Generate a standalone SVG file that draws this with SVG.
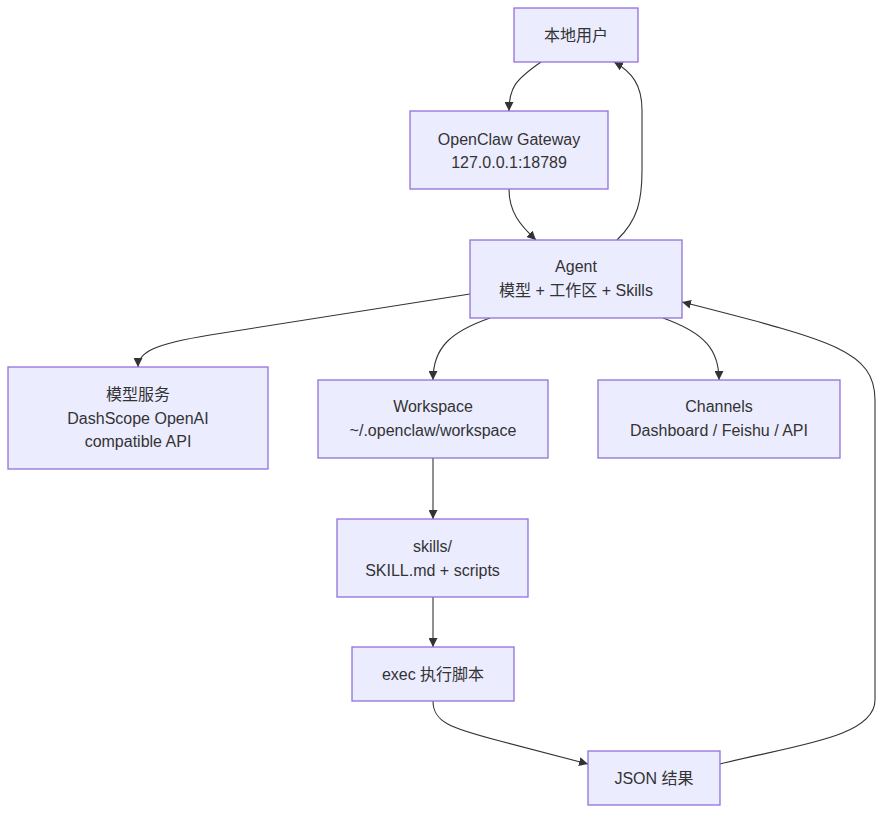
<svg xmlns="http://www.w3.org/2000/svg" width="883" height="814" viewBox="0 0 883 814">
<style>
.node rect{fill:#ECECFF;stroke:#9370DB;stroke-width:1.3}
.node text{font-family:"Liberation Sans","Noto Sans CJK SC",sans-serif;font-size:16px;fill:#333;text-anchor:middle}
.edges path{fill:none;stroke:#333;stroke-width:1.1}
</style>
<defs>
<marker id="arr" viewBox="0 0 10 10" refX="10" refY="5" markerWidth="9" markerHeight="9" markerUnits="userSpaceOnUse" orient="auto">
<path d="M0,0 L10,5 L0,10 z" fill="#333"/>
</marker>
</defs>
<rect width="883" height="814" fill="#ffffff"/>
<g class="edges">
<path d="M541,62 C515,80 509,88 509,111" marker-end="url(#arr)"/>
<path d="M509,189 C509,212 520,225 536,240" marker-end="url(#arr)"/>
<path d="M617,240 C638,220 642,200 642,170 L642,110 C642,85 632,72 614,62" marker-end="url(#arr)"/>
<path d="M470,294 L210,335 C155,344 138,352 138,367" marker-end="url(#arr)"/>
<path d="M490,318 C450,332 433,348 433,380" marker-end="url(#arr)"/>
<path d="M663,318 C705,333 719,350 719,380" marker-end="url(#arr)"/>
<path d="M433,458 L433,519" marker-end="url(#arr)"/>
<path d="M433,597 L433,647" marker-end="url(#arr)"/>
<path d="M433,701 C433,722 450,728 500,741 L588,764" marker-end="url(#arr)"/>
<path d="M720,764 C790,746 875,738 875,700 L875,400 C875,350 830,340 682,302" marker-end="url(#arr)"/>
</g>
<g id="user" class="node"><rect x="514" y="8" width="124" height="54"/><text x="576" y="40.5">本地用户</text></g>
<g id="gateway" class="node"><rect x="410" y="111" width="198" height="78"/><text x="509" y="144.5">OpenClaw Gateway</text><text x="509" y="168">127.0.0.1:18789</text></g>
<g id="agent" class="node"><rect x="470" y="240" width="212" height="78"/><text x="576" y="272">Agent</text><text x="576" y="296">模型 + 工作区 + Skills</text></g>
<g id="model" class="node"><rect x="8" y="367" width="260" height="102"/><text x="138" y="400">模型服务</text><text x="138" y="424">DashScope OpenAI</text><text x="138" y="447">compatible API</text></g>
<g id="workspace" class="node"><rect x="318" y="380" width="230" height="78"/><text x="433" y="412">Workspace</text><text x="433" y="436">~/.openclaw/workspace</text></g>
<g id="channels" class="node"><rect x="598" y="380" width="242" height="78"/><text x="719" y="412">Channels</text><text x="719" y="436">Dashboard / Feishu / API</text></g>
<g id="skills" class="node"><rect x="337" y="519" width="191" height="78"/><text x="432.5" y="551.5">skills/</text><text x="432.5" y="575.5">SKILL.md + scripts</text></g>
<g id="exec" class="node"><rect x="352" y="647" width="162" height="54"/><text x="433" y="680">exec 执行脚本</text></g>
<g id="json" class="node"><rect x="588" y="751" width="132" height="54"/><text x="654" y="784">JSON 结果</text></g>
</svg>
